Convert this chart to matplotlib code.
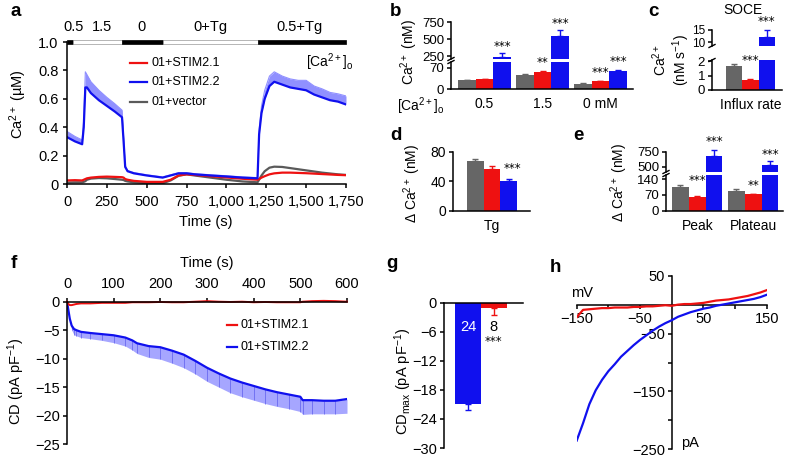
import matplotlib
matplotlib.use("Agg")
import matplotlib.pyplot as plt
import numpy as np
from matplotlib.lines import Line2D
from matplotlib.patches import Rectangle

# ---- panel a : Ca2+ traces ----
ta = [0, 50, 95, 105, 115, 125, 150, 200, 250, 300, 345, 355, 365, 380, 420, 500, 600, 650, 700, 750,
      800, 900, 1000, 1100, 1195, 1205, 1220, 1240, 1270, 1300, 1350, 1400, 1450, 1500, 1550, 1600, 1650, 1700, 1750]
a_blue = [0.33, 0.30, 0.28, 0.40, 0.68, 0.68, 0.64, 0.59, 0.55, 0.51, 0.47, 0.30, 0.12, 0.09, 0.075, 0.06, 0.045, 0.06, 0.075, 0.075,
          0.068, 0.06, 0.053, 0.045, 0.04, 0.35, 0.50, 0.60, 0.69, 0.72, 0.70, 0.68, 0.67, 0.66, 0.63, 0.61, 0.59, 0.58, 0.56]
a_blue_err = [0.04, 0.035, 0.03, 0.05, 0.11, 0.09, 0.08, 0.07, 0.06, 0.055, 0.05, 0.03, 0.01, 0.005, 0.005, 0.005, 0.005, 0.005, 0.005, 0.005,
              0.005, 0.005, 0.005, 0.005, 0.005, 0.03, 0.05, 0.06, 0.07, 0.07, 0.06, 0.06, 0.06, 0.07, 0.06, 0.06, 0.055, 0.055, 0.06]
a_red = [0.025, 0.027, 0.025, 0.03, 0.035, 0.04, 0.045, 0.05, 0.052, 0.05, 0.048, 0.045, 0.035, 0.03, 0.022, 0.015, 0.015, 0.03, 0.06, 0.068,
         0.064, 0.055, 0.046, 0.037, 0.03, 0.035, 0.045, 0.055, 0.068, 0.075, 0.08, 0.08, 0.078, 0.076, 0.073, 0.07, 0.067, 0.064, 0.062]
a_gray = [0.01, 0.012, 0.012, 0.015, 0.02, 0.03, 0.038, 0.042, 0.04, 0.035, 0.03, 0.028, 0.022, 0.018, 0.012, 0.006, 0.005, 0.025, 0.058, 0.068,
          0.06, 0.045, 0.03, 0.018, 0.012, 0.03, 0.06, 0.09, 0.115, 0.122, 0.12, 0.112, 0.104, 0.096, 0.088, 0.08, 0.074, 0.068, 0.064]
sol_edges = [0, 40, 345, 605, 1195, 1750]
sol_dark = [True, False, True, False, True]
sol_labels = ['0.5', '1.5', '0', '0+Tg', '0.5+Tg']
sol_label_t = [44, 218, 468, 897, 1461]

# ---- panel b ----
b_vals = [28, 31, 240, 47, 57, 550, 16, 25, 60]
b_errs = [1, 1.5, 55, 2, 2, 85, 2, 2, 2]
# ---- panel c ----
c_vals = [1.7, 0.7, 12.3]
c_errs = [0.15, 0.1, 2.9]
# ---- panel d ----
d_vals = [67, 57, 40]
d_errs = [3, 3, 3]
# ---- panel e ----
e_vals = [103, 60, 680, 89, 73, 530]
e_errs = [10, 3, 100, 6, 3, 60]

# ---- panel f : current density ----
tf = [0, 3, 6, 10, 15, 20, 30, 50, 75, 100, 125, 140, 150, 175, 200, 225, 250, 275, 300, 325, 350, 375,
      400, 425, 450, 475, 500, 505, 525, 550, 575, 600]
f_blue = [0, -1.5, -3.0, -4.2, -4.8, -5.0, -5.3, -5.5, -5.7, -5.9, -6.3, -6.8, -7.3, -7.8, -8.0, -8.6, -9.3, -10.4,
          -11.6, -12.6, -13.5, -14.2, -14.8, -15.4, -15.9, -16.3, -16.7, -17.3, -17.3, -17.4, -17.4, -17.1]
f_blue_err = [0, 0.2, 0.5, 0.8, 1.0, 1.0, 1.0, 1.0, 1.1, 1.3, 1.5, 1.7, 1.8, 2.0, 2.1, 2.2, 2.3, 2.3, 2.4, 2.4, 2.5, 2.5,
              2.5, 2.5, 2.5, 2.5, 2.6, 2.5, 2.4, 2.3, 2.3, 2.5]
f_red = [0, -0.4, -0.6, -0.6, -0.5, -0.4, -0.3, -0.3, -0.2, -0.2, -0.2, -0.1, -0.1, -0.1, -0.05, -0.1, -0.1, 0,
         0.1, 0, -0.05, 0, -0.1, -0.05, -0.1, -0.1, -0.1, 0, 0.1, 0.15, 0.1, 0.0]

# ---- panel g ----
g_vals = [-21.0, -1.0]
g_errs = [1.2, 1.5]
g_n = ['24', '8']

# ---- panel h : I-V ----
hv = [-150, -140, -130, -120, -110, -100, -90, -80, -70, -60, -50, -40, -30, -20, -10, 0,
      10, 20, 30, 40, 50, 60, 70, 80, 90, 100, 110, 120, 130, 140, 150]
h_blue = [-235, -205, -172, -148, -130, -115, -103, -90, -80, -70, -61, -53, -45, -38, -32, -27,
          -21, -17, -13, -10, -7, -5, -2, 0, 2, 4, 6, 8, 10, 13, 17]
h_red = [-22, -9, -8, -7, -6, -6, -5, -5, -5, -4, -4, -3, -3, -2, -1, -2,
         0, 1, 1, 2, 3, 5, 7, 8, 9, 11, 13, 15, 18, 21, 25]

RED = '#ee1111'
BLUE = '#1010ee'
GRAY = '#5a5a5a'
BARGRAY = '#666666'
LBLUE = '#9090ff'
cols3 = [BARGRAY, RED, BLUE]

plt.rcParams['font.family'] = ['Liberation Sans', 'DejaVu Sans']
plt.rcParams['mathtext.fontset'] = 'custom'
plt.rcParams['mathtext.rm'] = 'Liberation Sans'
plt.rcParams['mathtext.it'] = 'Liberation Sans:italic'
plt.rcParams['mathtext.bf'] = 'Liberation Sans:bold'
plt.rcParams['font.size'] = 10
plt.rcParams['axes.linewidth'] = 1.1

W, H = 788, 459
fig = plt.figure(figsize=(W / 100, H / 100), dpi=100)


def px_ax(l, t, r, b):
    return fig.add_axes([l / W, 1 - b / H, (r - l) / W, (b - t) / H])


def ftxt(x, y, s, **kw):
    kw.setdefault('ha', 'center')
    kw.setdefault('va', 'center')
    kw.setdefault('fontsize', 10)
    fig.text(x / W, 1 - y / H, s, **kw)


def fline(xs, ys, **kw):
    fig.add_artist(Line2D([x / W for x in xs], [1 - y / H for y in ys], **kw))


def style(ax, size=10):
    for s in ['top', 'right']:
        ax.spines[s].set_visible(False)
    ax.tick_params(direction='out', length=3, width=1.1, labelsize=size, pad=2)


def stars(ax, x, y, s, off):
    ax.annotate(s, (x, y), xytext=(0, off * 0.72), textcoords='offset points',
                ha='center', va='center', fontsize=8.5, family='DejaVu Sans',
                annotation_clip=False)


def broken(box, split, ylo, yup, ytlo, ytup, xlim, xs, vals, errs, cols, xtk, xtl, star_list, usize=9.5):
    l, t, r, b = box
    bu, tl = split
    axu = px_ax(l, t, r, bu)
    axl = px_ax(l, tl, r, b)
    for ax in (axu, axl):
        ax.bar(xs, vals, width=1, color=cols, lw=0)
        ax.set_xlim(xlim)
        style(ax, 9.5)
    axu.tick_params(axis='y', labelsize=usize)
    axl.set_ylim(ylo)
    axu.set_ylim(yup)
    for x, v, e, c in zip(xs, vals, errs, cols):
        ax = axu if v > ylo[1] else axl
        ax.errorbar(x, v, yerr=[[0], [e]], fmt='none', ecolor=c, capsize=2.5,
                    elinewidth=1, capthick=1, clip_on=False)
    axu.spines['bottom'].set_visible(False)
    axu.set_xticks([])
    axl.set_xticks(xtk, xtl)
    axl.tick_params(axis='x', length=0, pad=6, labelsize=10)
    axl.set_yticks(ytlo)
    axu.set_yticks(ytup)
    # break mark on the y axis
    fline([l - 3, l + 3], [tl + 1.5, tl - 1.5], color='k', lw=1)
    fline([l - 3, l + 3], [bu + 1.5, bu - 1.5], color='k', lw=1)
    for i, s, off in star_list:
        ax = axu if vals[i] > ylo[1] else axl
        stars(ax, xs[i], vals[i] + errs[i], s, off)
    return axu, axl


# ================= panel a =================
axa = px_ax(67, 42, 346, 184)
style(axa, 10.5)
axa.tick_params(axis='x', pad=5)
axa.tick_params(axis='y', pad=3)
axa.fill_between(ta, a_blue, np.add(a_blue, a_blue_err), color=LBLUE, lw=0)
axa.plot(ta, np.add(a_blue, a_blue_err), color=LBLUE, lw=0.8)
axa.plot(ta, a_gray, color=GRAY, lw=1.6)
axa.plot(ta, a_red, color=RED, lw=1.6)
axa.plot(ta, a_blue, color=BLUE, lw=1.6)
axa.set_xlim(0, 1750)
axa.set_ylim(0, 1.0)
axa.set_xticks(range(0, 1751, 250), ['0', '250', '500', '750', '1,000', '1,250', '1,500', '1,750'])
axa.set_yticks([0, 0.2, 0.4, 0.6, 0.8, 1.0], ['0', '0.2', '0.4', '0.6', '0.8', '1.0'])
for x0, x1, dark in zip(sol_edges[:-1], sol_edges[1:], sol_dark):
    axa.add_patch(Rectangle((x0, 0.988), x1 - x0, 0.024, facecolor='k' if dark else 'white',
                            edgecolor='k' if dark else '#999999', lw=0.5, clip_on=False))
for tx, s in zip(sol_label_t, sol_labels):
    axa.text(tx, 1.105, s, ha='center', va='center', fontsize=10.5, clip_on=False)
for y, c, s in [(63, RED, '01+STIM2.1'), (82, BLUE, '01+STIM2.2'), (102, GRAY, '01+vector')]:
    fline([130, 147], [y, y], color=c, lw=1.6)
    ftxt(151, y, s, ha='left', fontsize=9)
ftxt(330, 62, '[Ca$^{2+}$]$_{\\rm o}$', fontsize=10)
ftxt(206, 222, 'Time (s)', fontsize=10.5)
ftxt(18, 104, 'Ca$^{2+}$ (µM)', rotation=90, fontsize=10.5)

# ================= panel b =================
bx = [0, 1, 2, 3.28, 4.28, 5.28, 6.56, 7.56, 8.56]
broken((451, 22, 633, 89), (59, 62), (0, 88), (210, 750), [0, 70], [250, 500, 750],
       (-0.9, 9.4), bx, b_vals, b_errs, cols3 * 3, [1, 4.28, 7.56], ['0.5', '1.5', '0 mM'],
       [(2, '***', 6.5), (5, '***', 6.5), (4, '**', 8), (7, '***', 8), (8, '***', 8)])
ftxt(421, 106, '[Ca$^{2+}$]$_{\\rm o}$')
ftxt(409, 52, 'Ca$^{2+}$ (nM)', rotation=90)

# ================= panel c =================
broken((712, 30, 782, 90), (46, 60), (0, 2.1), (8.5, 15), [0, 1, 2], [10, 15],
       (-1.36, 2.94), [0, 1, 2], c_vals, c_errs, cols3, [1], ['Influx rate'],
       [(1, '***', 18), (2, '***', 8)], usize=8.5)
ftxt(743, 10, 'SOCE')
ftxt(671, 60, 'Ca$^{2+}$\n(nM s$^{-1}$)', rotation=90, linespacing=1.1)

# ================= panel d =================
axd = px_ax(453, 151.7, 530, 210.7)
style(axd)
axd.bar([0, 1, 2], d_vals, width=1, color=cols3, lw=0)
for x, v, e, c in zip([0, 1, 2], d_vals, d_errs, cols3):
    axd.errorbar(x, v, yerr=[[0], [e]], fmt='none', ecolor=c, capsize=2.5, elinewidth=1, capthick=1)
axd.set_xlim(-1.34, 3.27)
axd.set_ylim(0, 80)
axd.set_yticks([0, 40, 80])
axd.set_xticks([1], ['Tg'])
axd.tick_params(axis='x', length=0, pad=6)
stars(axd, 2.2, d_vals[2] + d_errs[2], '***', 10)
ftxt(412, 183, 'Δ Ca$^{2+}$ (nM)', rotation=90)

# ================= panel e =================
ex = [0, 1, 2, 3.33, 4.33, 5.33]
broken((666, 152, 783, 210.7), (172, 175), (0, 158), (410, 750), [0, 70, 140], [500, 750],
       (-0.86, 6.1), ex, e_vals, e_errs, cols3 * 2, [1, 4.33], ['Peak', 'Plateau'],
       [(1, '***', 16), (2, '***', 8.5), (4, '**', 8.5), (5, '***', 6.5)])
ftxt(619, 182, 'Δ Ca$^{2+}$ (nM)', rotation=90)

# ================= panel f =================
axf = px_ax(67, 301.7, 347, 444)
axf.fill_between(tf, np.subtract(f_blue, f_blue_err), f_blue, color=LBLUE, lw=0, alpha=0.8)
axf.vlines(tf, np.subtract(f_blue, f_blue_err), f_blue, color='#6a6af0', lw=0.6)
axf.plot(tf, f_blue, color=BLUE, lw=1.6)
axf.plot(tf, f_red, color=RED, lw=1.4, clip_on=False)
axf.set_xlim(0, 600)
axf.set_ylim(-25, 0)
axf.xaxis.tick_top()
for s in ['bottom', 'right']:
    axf.spines[s].set_visible(False)
axf.tick_params(direction='out', length=3, width=1.1, labelsize=10.5, pad=2)
axf.tick_params(axis='x', pad=5)
axf.set_xticks(range(0, 601, 100))
axf.set_yticks([0, -5, -10, -15, -20, -25])
for y, c, s in [(325, RED, '01+STIM2.1'), (347, BLUE, '01+STIM2.2')]:
    fline([227, 237], [y, y], color=c, lw=1.6)
    ftxt(240, y, s, ha='left', fontsize=9)
ftxt(207, 263, 'Time (s)', fontsize=10.5)
ftxt(16, 381, 'CD (pA pF$^{-1}$)', rotation=90, fontsize=10.5)

# ================= panel g =================
axg = px_ax(444, 302.7, 523, 448)
axg.bar([0, 1], g_vals, width=1, color=[BLUE, RED], lw=0)
for x, v, e, c in zip([0, 1], g_vals, g_errs, [BLUE, RED]):
    axg.errorbar(x, v, yerr=[[e], [0]], fmt='none', ecolor=c, capsize=2.5, elinewidth=1, capthick=1)
axg.set_xlim(-0.92, 2.12)
axg.set_ylim(-30, 0)
for s in ['bottom', 'right']:
    axg.spines[s].set_visible(False)
axg.set_xticks([])
axg.tick_params(direction='out', length=3, width=1.1, labelsize=10.5, pad=2)
axg.set_yticks([0, -6, -12, -18, -24, -30])
axg.text(0, -5.0, g_n[0], color='white', ha='center', va='center', fontsize=10.5)
axg.text(1, -5.0, g_n[1], color='k', ha='center', va='center', fontsize=10.5)
axg.text(1, -8.1, '***', ha='center', va='center', fontsize=8.5, family='DejaVu Sans')
ftxt(403, 381, 'CD$_{\\rm max}$ (pA pF$^{-1}$)', rotation=90, fontsize=10.5)

# ================= panel h =================
axh = px_ax(576.7, 275.7, 766.7, 449.3)
axh.plot(hv, h_blue, color=BLUE, lw=1.6, zorder=3)
axh.plot(hv, h_red, color=RED, lw=1.6, zorder=3)
axh.set_xlim(-150, 150)
axh.set_ylim(-250, 50)
axh.spines['left'].set_position(('data', 0))
axh.spines['bottom'].set_position(('data', 0))
for s in ['top', 'right']:
    axh.spines[s].set_visible(False)
axh.tick_params(direction='out', length=3, width=1.1, labelsize=10.5, pad=2)
axh.set_xticks([-150, -100, -50, 50, 100, 150], ['\u2212150', '', '\u221250', '50', '', '150'])
axh.set_yticks([50, -50, -100, -150, -200, -250], ['50', '\u221250', '', '\u2212150', '', '\u2212250'])
ftxt(582, 293, 'mV', fontsize=10.5)
ftxt(690, 443, 'pA', fontsize=10.5)

# panel letters
for s, x, y in [('a', 16, 12), ('b', 396, 12), ('c', 653, 12), ('d', 396, 135), ('e', 578, 135),
                ('f', 14, 263), ('g', 392, 263), ('h', 555, 267)]:
    ftxt(x, y, s, fontsize=13.5, fontweight='bold')

fig.savefig('out.png', dpi=100)
